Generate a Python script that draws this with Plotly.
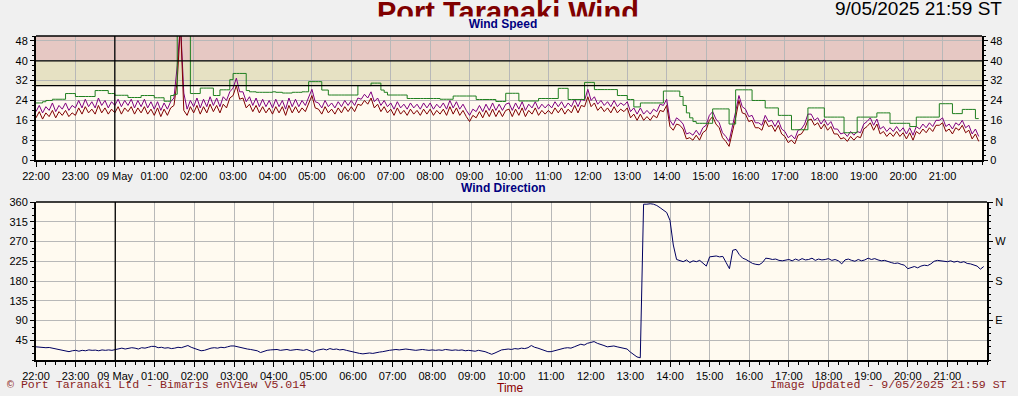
import pandas as pd
import plotly.graph_objects as go

W, H = 1018, 396

# ---------------- data (5-minute samples, 22:00 8 May -> 21:55 9 May) ----------------
start_time = "2025-05-08 22:00"
n_samples = 288

wind_avg = [
    17, 19.5, 16.5, 19, 17.5, 20, 17, 19.5, 18, 20, 17.5, 19,            # 22
    18, 21, 18.5, 21.5, 19, 20.5, 18.5, 22, 19, 21, 18.5, 20.5,          # 23
    19, 21.5, 18.5, 21, 19.5, 21.5, 18.5, 21, 19, 21.5, 18.5, 20.5,      # 00
    18, 21, 17.5, 20.5, 18, 21, 22, 32, 55, 20, 18, 21.5,                # 01
    19, 22, 18.5, 21.5, 19, 22.5, 19.5, 22, 19, 22.5, 21, 25,            # 02
    26, 30, 24.5, 25, 21, 22.5, 19.5, 22, 19, 21.5, 19, 21,              # 03
    18.5, 21.5, 19, 21.5, 18, 22, 19, 21.5, 19, 21, 19.5, 22.5,          # 04
    26, 21, 20.5, 18.5, 21.5, 19, 20.5, 18.5, 21, 19, 21.5, 19.5,        # 05
    21.5, 19.5, 22.5, 22, 24, 22.5, 25, 21, 22.5, 19.5, 21.5, 19,        # 06
    20.5, 18, 21, 18.5, 20, 18, 20.5, 18.5, 20, 18, 20.5, 18.5,          # 07
    20.5, 18, 20, 18.5, 20.5, 18, 21.5, 18.5, 21, 18, 20, 17.5,          # 08
    15.5, 18, 17, 19.5, 17, 20, 17.5, 20.5, 17.5, 20, 17.5, 20,          # 09
    20.5, 17.5, 20.5, 18, 21, 17.5, 20, 18.5, 21, 18, 20, 18.5,          # 10
    20, 18.5, 21, 19, 21, 18.5, 20.5, 19, 22, 19, 22, 21.5,              # 11
    25.5, 21.5, 23, 20, 21.5, 19.5, 21, 19, 21.5, 19, 20.5, 19.5,        # 12
    21, 17, 18.5, 16, 18.5, 16, 17.5, 16, 18, 17, 20, 19.5,              # 13
    22, 13.5, 12, 14.5, 14, 12.5, 8.5, 9, 8, 10, 8, 11,                  # 14
    12, 16, 17.5, 14.5, 13, 9, 7.5, 5.5, 11, 17, 24, 19,                 # 15
    18.5, 15.5, 16, 13, 13, 12, 16, 13.5, 14, 11.5, 14, 10.5,            # 16
    9.5, 7, 8, 6.5, 10, 10.5, 12.5, 16, 16.5, 14, 15, 12.5,              # 17
    14.5, 12, 13.5, 10.5, 10.5, 8.5, 9, 7.5, 9.5, 8, 9.5, 9,             # 18
    12.5, 13.5, 15, 12, 14.5, 10.5, 11.5, 9.5, 11, 9.5, 11.5, 9.5,       # 19
    11, 8.5, 11, 8, 11.5, 10.5, 12.5, 11, 13, 11.5, 14, 14,              # 20
    15, 11.5, 12.5, 10.5, 13, 12, 14, 11, 12, 8.5, 10.5, 7.5,            # 21
]

wind_max = [
    19.5, 22, 19, 21.5, 20, 23, 19.5, 22, 20.5, 23, 20, 22,              # 22
    21, 24, 21, 24.5, 21.5, 23.5, 21, 25, 22, 24, 21, 23.5,              # 23
    22, 24.5, 21.5, 24, 22, 24.5, 21, 24, 21.5, 24.5, 21, 23.5,          # 00
    20.5, 23.5, 20, 23, 20.5, 23.5, 25, 38, 55, 27, 20.5, 24,            # 01
    21.5, 25, 21, 24.5, 21.5, 25.5, 22, 25, 21.5, 25.5, 24, 27.5,        # 02
    29, 33, 27.5, 27.5, 23.5, 25.5, 22, 25, 21.5, 24.5, 21.5, 24,        # 03
    21, 24.5, 21.5, 24, 20.5, 25, 21.5, 24.5, 21.5, 24, 22, 25.5,        # 04
    28.5, 23.5, 23, 21, 24, 21.5, 23, 21, 23.5, 21.5, 24, 22,            # 05
    24, 22, 25, 24.5, 26.5, 25, 27.5, 23.5, 25, 22, 24, 21.5,            # 06
    23, 20.5, 23.5, 21, 22.5, 20.5, 23, 21, 22.5, 20.5, 23, 21,          # 07
    23, 20.5, 22.5, 21, 23, 20.5, 24, 21, 23.5, 20.5, 22.5, 20,          # 08
    18, 20.5, 19.5, 22, 19.5, 22.5, 20, 23, 20, 22.5, 20, 22.5,          # 09
    23, 20, 23, 20.5, 23.5, 20, 22.5, 21, 23.5, 20.5, 22.5, 21,          # 10
    22.5, 21, 23.5, 21.5, 23.5, 21, 23, 21.5, 24.5, 21.5, 24.5, 24,      # 11
    28.5, 24, 25.5, 22.5, 24, 22, 23.5, 21.5, 24, 21.5, 23, 22,          # 12
    23.5, 19.5, 21, 18.5, 21, 18.5, 20, 18.5, 20.5, 19.5, 22.5, 22,      # 13
    24.5, 16, 14, 17, 16, 14.5, 10.5, 11, 10, 12, 10, 13,                # 14
    14, 18, 19.5, 16.5, 15, 11, 9.5, 7.5, 13, 19.5, 26, 21.5,            # 15
    20.5, 17.5, 18, 15, 15, 14, 18, 15.5, 16, 13.5, 16, 12.5,            # 16
    11.5, 9, 10, 8.5, 12, 12.5, 14.5, 18.5, 18.5, 16, 17, 14.5,          # 17
    16.5, 14, 15.5, 12.5, 12.5, 10.5, 11, 9.5, 11.5, 10, 11.5, 11,       # 18
    14.5, 15.5, 17, 14, 16.5, 12.5, 13.5, 11.5, 13, 11.5, 13.5, 11.5,    # 19
    13, 10.5, 13, 10, 13.5, 12.5, 14.5, 13, 15, 13.5, 16, 16,            # 20
    17, 13.5, 14.5, 12.5, 15, 14, 16, 13, 14, 10.5, 12.5, 9.5,           # 21
]

wind_gust = [
    23, 23, 23.5, 24, 24, 24.5, 24.5, 24.5, 24.5, 26.8, 26.8, 26.8,      # 22
    25.6, 25.6, 25.6, 25.6, 25.6, 25.6, 28, 28, 28, 28, 26.8, 26.8,      # 23
    26.1, 26.1, 26.1, 26.1, 25.2, 25.2, 25.2, 25.2, 26, 26, 26, 26,      # 00
    25.1, 25.1, 25.1, 23.7, 23.7, 26, 26.5, 55, 55, 55, 55, 26.8,        # 01
    26.8, 26.8, 29, 29, 29, 29, 26, 26, 28.3, 28.3, 28.3, 32.4,          # 02
    34.9, 34.9, 34.9, 34.9, 28, 27.5, 27.5, 27.3, 27.3, 27.3, 27.3, 27.3,  # 03
    27.5, 27.3, 27.3, 27, 27, 27, 27.3, 27.3, 27.3, 27.5, 27.5, 31.6,    # 04
    31.6, 31.6, 31.6, 28.2, 28.2, 26.2, 26.2, 26.2, 26.2, 26.2, 26.2, 26.2,  # 05
    26.2, 26.2, 30, 30, 30, 30, 31, 31, 31, 28.2, 27.3, 26.2,            # 06
    26.2, 26.2, 26.2, 26.2, 26.2, 24.8, 24.8, 24.8, 24.8, 24.8, 24.8, 24.8,  # 07
    24.8, 24.8, 24.8, 24.5, 24.5, 24.5, 24.5, 25.8, 25.8, 25.8, 25.8, 25.8,  # 08
    25.8, 25.8, 24.4, 24.4, 24.4, 24.4, 24.4, 24.4, 23.6, 23.6, 23.6, 26.9,  # 09
    26.9, 26.9, 26.9, 23.8, 23.8, 23.8, 23.8, 23.8, 23.8, 24.8, 24.8, 24.8,  # 10
    24.8, 24.8, 24.8, 28.9, 28.9, 28.9, 24.4, 24.4, 24.4, 24.4, 24.4, 31.3,  # 11
    31.3, 31.3, 28.4, 28.4, 28.4, 28.4, 28.4, 28.4, 28.4, 26, 26, 26,    # 12
    24.4, 24.4, 21.4, 21.4, 23, 23, 23, 23, 23, 23, 23, 27.8,            # 13
    27.8, 27.8, 27.8, 27.8, 25.6, 22, 19, 17, 15.5, 14.8, 14.8, 14.8,    # 14
    14.8, 14.8, 20.6, 20.6, 20.6, 20.6, 20.6, 14.5, 14.5, 28.3, 28.3, 28.3,  # 15
    28.3, 28.3, 24, 24, 24, 24, 21, 21, 21, 21, 18, 18,                  # 16
    18, 18, 12.2, 12.2, 12.2, 12.2, 12.2, 21, 21, 21, 21, 21,            # 17
    17.3, 17.3, 17.3, 17.3, 17.3, 17.3, 11, 11, 11, 11, 17.3, 17.3,      # 18
    17.3, 17.3, 17.3, 17.3, 19, 19, 19, 19, 14.8, 14.8, 14.8, 14.8,      # 19
    14.8, 14.8, 13.5, 13.5, 17.3, 17.3, 17.3, 17.3, 17.3, 17.3, 17.3, 22.7,  # 20
    22.7, 22.7, 22.7, 18.7, 18.7, 18.7, 20.4, 20.4, 20.4, 20.4, 16.7, 16.7,  # 21
]

wind_dir = [
    30, 29, 28.5, 28, 28.5, 27, 25, 23, 22, 21, 19, 21,                  # 22
    22, 20, 22, 21, 23, 22, 22.5, 21, 23, 22, 23, 22,                    # 23
    24, 26, 27, 25, 26, 28, 27, 25, 28, 27, 29, 31,                      # 00
    31, 28, 29, 27, 28, 26, 27, 29, 28, 31, 33, 29,                      # 01
    26, 24, 21, 22, 25, 27, 28, 27, 29, 28, 30, 32,                      # 02
    32, 30, 28, 26, 25, 24, 23, 21, 17, 20, 22, 23,                      # 03
    23, 24, 22, 23, 24, 22, 23, 24, 23, 22, 24, 21,                      # 04
    18, 22, 24, 25, 23, 26, 24, 25, 23, 24, 22, 20,                      # 05
    18, 16, 15, 14, 15, 16, 15, 17, 18, 19, 21, 22,                      # 06
    23, 24, 23, 24, 25, 24, 23, 22, 23, 24, 23, 22,                      # 07
    23, 22, 23, 22, 24, 23, 22, 23, 22, 23, 21, 22,                      # 08
    21, 20, 22, 21, 19, 16, 13, 16, 20, 23, 24, 25,                      # 09
    24, 26, 25, 27, 26, 28, 33, 29, 27, 24, 21, 19,                      # 10
    19, 21, 23, 26, 27, 28, 27, 30, 33, 36, 34, 38,                      # 11
    40, 42, 38, 36, 33, 30, 31, 32, 30, 28, 27, 25,                      # 12
    18, 12, 7, 5, 355, 355, 356, 355, 352, 347, 341, 336,                # 13
    318, 262, 229, 226, 224, 228, 222, 226, 224, 227, 221, 214,          # 14
    235, 236, 237, 235, 236, 222, 208, 250, 252, 240, 232, 229,          # 15
    225, 220, 218, 217, 222, 232, 231, 229, 230, 227, 226, 228,          # 16
    229, 226, 230, 227, 231, 228, 229, 232, 227, 230, 228, 229,          # 17
    231, 227, 229, 226, 219, 228, 230, 227, 225, 229, 226, 228,          # 18
    232, 229, 231, 228, 226, 227, 224, 222, 220, 221, 218, 216,          # 19
    208, 211, 213, 210, 214, 216, 215, 219, 225, 227, 226, 225,          # 20
    224, 226, 223, 225, 222, 224, 220, 219, 217, 214, 207, 213,          # 21
]

hour_labels = ["22:00", "23:00", "09 May", "01:00", "02:00", "03:00", "04:00", "05:00",
               "06:00", "07:00", "08:00", "09:00", "10:00", "11:00", "12:00", "13:00",
               "14:00", "15:00", "16:00", "17:00", "18:00", "19:00", "20:00", "21:00"]
speed_ticks = [0, 8, 16, 24, 32, 40, 48]
dir_ticks = [45, 90, 135, 180, 225, 270, 315, 360]
compass_vals = [90, 180, 270, 360]
compass_text = ["E", "S", "W", "N"]
band_amber = (30, 40)
band_red = (40, 50)

for s in (wind_avg, wind_max, wind_gust, wind_dir):
    assert len(s) == n_samples, len(s)

times = pd.date_range(start_time, periods=n_samples, freq="5min")
hour_ticks = pd.date_range(start_time, periods=24, freq="1h")
t_end = pd.Timestamp(start_time) + pd.Timedelta(hours=24)
midnight = pd.Timestamp("2025-05-09 00:00")

# ---------------- styling ----------------
PAPER = "#F0F0F0"
PLOT = "#FFFAF0"
GRID = "#B8B8B8"
FONT = "Liberation Sans, Arial, sans-serif"
MONO = "Liberation Mono, Courier New, monospace"

def fx(p):
    return p / W

def fy(p):
    return 1 - p / H

fig = go.Figure()
fig.add_trace(go.Scatter(x=times, y=wind_max, mode="lines", line=dict(color="#800080", width=1),
                         xaxis="x", yaxis="y", hoverinfo="skip"))
fig.add_trace(go.Scatter(x=times, y=wind_avg, mode="lines", line=dict(color="#800000", width=1),
                         xaxis="x", yaxis="y", hoverinfo="skip"))
fig.add_trace(go.Scatter(x=times, y=wind_gust, mode="lines", line=dict(color="#1F7F1F", width=1, shape="hv"),
                         xaxis="x", yaxis="y", hoverinfo="skip"))
fig.add_trace(go.Scatter(x=times, y=wind_dir, mode="lines", line=dict(color="#000060", width=1),
                         xaxis="x2", yaxis="y2", hoverinfo="skip"))
# empty traces so the right-hand axes exist as overlays
fig.add_trace(go.Scatter(x=[], y=[], mode="lines", xaxis="x", yaxis="y3", hoverinfo="skip"))
fig.add_trace(go.Scatter(x=[], y=[], mode="lines", xaxis="x2", yaxis="y4", hoverinfo="skip"))

tickfont = dict(family=FONT, size=11, color="black")

def xaxis(domain, anchor):
    return dict(domain=domain, anchor=anchor, type="date", automargin=False,
                range=[pd.Timestamp(start_time), t_end],
                tickvals=list(hour_ticks), ticktext=hour_labels,
                ticks="outside", ticklen=5, tickcolor="black", tickwidth=1,
                showgrid=True, gridcolor=GRID, gridwidth=1,
                showline=True, linecolor="black", linewidth=2,
                zeroline=False, tickfont=tickfont, fixedrange=True,
                minor=dict(ticks="outside", ticklen=3, tickcolor="black",
                           tick0=start_time, dtick=15 * 60 * 1000, showgrid=False))

def yaxis(**kw):
    base = dict(automargin=False, ticks="outside", ticklen=4, tickcolor="black",
                showline=True, linecolor="black", linewidth=2,
                zeroline=False, tickfont=tickfont, fixedrange=True)
    base.update(kw)
    return base

top_dom = [fy(160), fy(36)]
bot_dom = [fy(360), fy(202)]

fig.update_layout(
    width=W, height=H,
    margin=dict(l=0, r=0, t=0, b=0, autoexpand=False),
    paper_bgcolor=PAPER, plot_bgcolor=PLOT,
    showlegend=False, hovermode=False,
    xaxis=xaxis([fx(36), fx(982)], "y"),
    xaxis2=xaxis([fx(36), fx(987)], "y2"),
    yaxis=yaxis(domain=top_dom, anchor="x", range=[0, 50], tickvals=speed_ticks,
                showgrid=True, gridcolor=GRID,
                minor=dict(ticks="outside", ticklen=2, tickcolor="black", dtick=2, showgrid=False)),
    yaxis3=yaxis(overlaying="y", anchor="x", side="right", range=[0, 50], tickvals=speed_ticks,
                 showgrid=False,
                 minor=dict(ticks="outside", ticklen=2, tickcolor="black", dtick=2, showgrid=False)),
    yaxis2=yaxis(domain=bot_dom, anchor="x2", range=[0, 360], tickvals=dir_ticks,
                 showgrid=True, gridcolor=GRID,
                 minor=dict(ticks="outside", ticklen=2, tickcolor="black", dtick=15, showgrid=False)),
    yaxis4=yaxis(overlaying="y2", anchor="x2", side="right", range=[0, 360],
                 tickvals=compass_vals, ticktext=compass_text, showgrid=False,
                 minor=dict(ticks="outside", ticklen=2, tickcolor="black", dtick=15, showgrid=False)),
)

shapes = [
    dict(type="rect", xref="x domain", yref="y", x0=0, x1=1, y0=band_red[0], y1=band_red[1],
         fillcolor="#E6C8C3", line=dict(width=0), layer="below"),
    dict(type="rect", xref="x domain", yref="y", x0=0, x1=1, y0=band_amber[0], y1=band_amber[1],
         fillcolor="#E6E1C3", line=dict(width=0), layer="below"),
    dict(type="line", xref="x domain", yref="y", x0=0, x1=1, y0=band_amber[0], y1=band_amber[0],
         line=dict(color="black", width=1.3), layer="above"),
    dict(type="line", xref="x domain", yref="y", x0=0, x1=1, y0=band_amber[1], y1=band_amber[1],
         line=dict(color="black", width=1.3), layer="above"),
    dict(type="line", xref="x", yref="y domain", x0=midnight, x1=midnight, y0=0, y1=1,
         line=dict(color="black", width=1.3), layer="above"),
    dict(type="line", xref="x2", yref="y2 domain", x0=midnight, x1=midnight, y0=0, y1=1,
         line=dict(color="black", width=1.3), layer="above"),
    dict(type="line", xref="x domain", yref="y domain", x0=0, x1=1, y0=1, y1=1,
         line=dict(color="black", width=1.3)),
    dict(type="line", xref="x2 domain", yref="y2 domain", x0=0, x1=1, y0=1, y1=1,
         line=dict(color="black", width=1.3)),
]
fig.update_layout(shapes=shapes)

ann = [
    dict(text="<b>Port Taranaki Wind</b>", x=fx(508), y=fy(12), xref="paper", yref="paper",
         xanchor="center", yanchor="middle", showarrow=False,
         font=dict(family=FONT, size=29, color="#800000")),
    dict(text="<b>Wind Speed</b>", x=fx(503), y=fy(24), xref="paper", yref="paper",
         xanchor="center", yanchor="middle", showarrow=False, bgcolor=PAPER,
         width=300, height=12, borderpad=1,
         font=dict(family=FONT, size=12, color="#000080")),
    dict(text="9/05/2025 21:59 ST", x=fx(1004), y=fy(9), xref="paper", yref="paper",
         xanchor="right", yanchor="middle", showarrow=False,
         font=dict(family=FONT, size=19, color="black")),
    dict(text="<b>Wind Direction</b>", x=fx(503), y=fy(188), xref="paper", yref="paper",
         xanchor="center", yanchor="middle", showarrow=False,
         font=dict(family=FONT, size=12, color="#000080")),
    dict(text="© Port Taranaki Ltd - Bimaris enView V5.014", x=fx(5), y=fy(384), xref="paper", yref="paper",
         xanchor="left", yanchor="middle", showarrow=False,
         font=dict(family=MONO, size=11.6, color="#8B2323")),
    dict(text="Image Updated - 9/05/2025 21:59 ST", x=fx(1009), y=fy(384), xref="paper", yref="paper",
         xanchor="right", yanchor="middle", showarrow=False,
         font=dict(family=MONO, size=11.6, color="#8B2323")),
    dict(text="Time", x=fx(510), y=fy(387.5), xref="paper", yref="paper",
         xanchor="center", yanchor="middle", showarrow=False,
         font=dict(family=FONT, size=12, color="#8B0000")),
]
fig.update_layout(annotations=ann)

fig.write_html("out.html", config=dict(displayModeBar=False, staticPlot=True))
